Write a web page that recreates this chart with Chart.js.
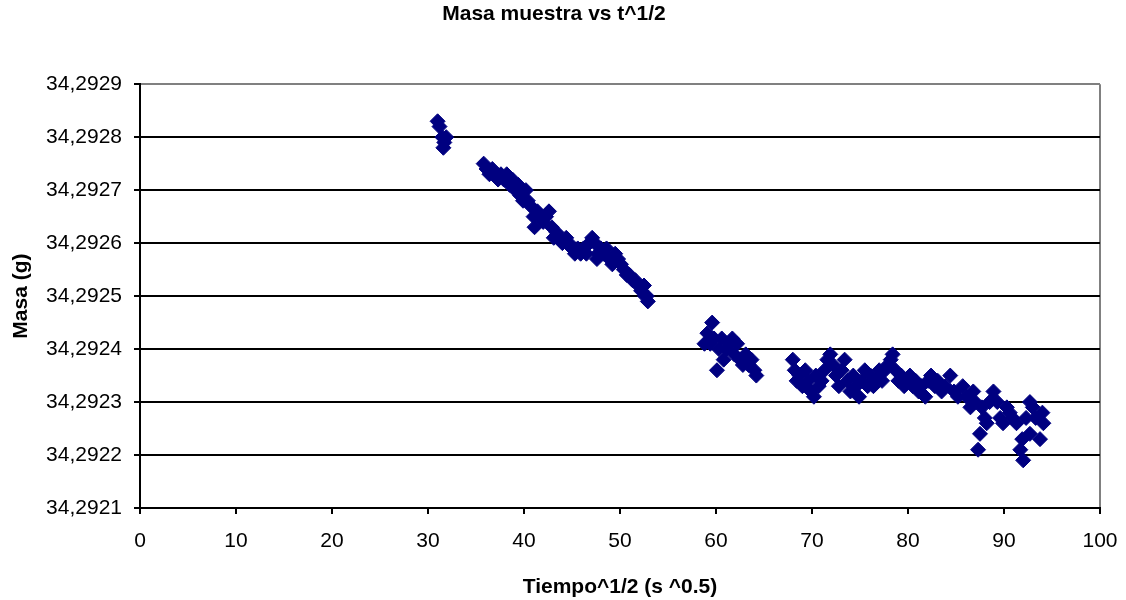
<!DOCTYPE html>
<html>
<head>
<meta charset="utf-8">
<script src="https://cdn.jsdelivr.net/npm/chart.js@4.4.1/dist/chart.umd.min.js"></script>
<style>
  html, body { margin: 0; padding: 0; background: #fff; }
  #wrap { width: 1126px; height: 600px; }
</style>
</head>
<body>
<div id="wrap"><canvas id="masaChart" width="1126" height="600"></canvas></div>
<script>
// tiempo^1/2 (s^0.5)
const tiempo = [
  31.0, 31.2, 31.5, 31.7, 31.9, 31.6,
  35.8, 36.1, 36.4, 36.7, 37.0, 37.3, 37.6, 37.9, 38.2, 38.5,
  38.8, 39.1, 39.4, 39.6, 39.9, 40.2, 40.4, 40.7, 41.0, 41.1,
  41.4, 41.7, 42.0, 42.3, 42.6, 42.9, 43.1, 43.4, 43.7, 44.0,
  44.4, 44.7, 45.0, 45.3, 45.6, 45.9, 46.2, 46.5, 46.8, 47.1,
  47.4, 47.6, 47.7, 48.0, 48.3, 48.6, 48.9, 49.2, 49.5, 49.8,
  50.1, 50.4, 50.7, 51.0, 51.3, 51.6, 51.9, 52.2, 52.5, 52.8,
  52.9, 52.6,
  58.8, 59.1, 59.4, 59.6, 59.8, 60.1, 60.3, 60.6, 60.8, 61.1,
  61.4, 61.7, 61.9, 62.2, 62.5, 62.8, 63.1, 63.4, 63.7, 64.0, 64.2,
  68.0, 68.2, 68.4, 68.7, 69.0, 69.3, 69.6, 69.9, 70.2, 70.4,
  70.7, 71.0, 71.3, 71.6, 71.9, 72.2, 72.5, 72.8, 73.1, 73.4,
  73.7, 74.0, 74.3, 74.6, 74.9, 75.2, 75.5, 75.8, 76.1, 76.4,
  76.7, 77.0, 77.3, 77.6, 77.9, 78.2, 78.4, 78.7, 79.0, 79.3,
  79.6, 79.9, 80.2, 80.5, 80.8, 81.1, 81.4, 81.8, 82.1, 82.4,
  82.8, 83.1, 83.5, 83.9, 84.4, 84.8, 85.2, 85.7, 86.1, 86.5,
  86.8, 87.0, 87.3, 87.5, 87.7, 88.0, 88.2, 88.5, 88.9, 89.3,
  89.6, 89.9, 90.3, 90.6, 90.9, 91.3, 91.7, 91.9, 92.0, 92.3,
  92.7, 93.0, 93.3, 93.75, 94.0, 94.1, 92.7
];

// masa (g)
const masa = [
  34.29283, 34.29282, 34.29280, 34.29279, 34.29280, 34.29278,
  34.29275, 34.29274, 34.29273, 34.29274, 34.29273, 34.29272, 34.29273, 34.29272, 34.29273, 34.29271,
  34.29272, 34.29270, 34.29271, 34.29269, 34.29268, 34.29270, 34.29268, 34.29267, 34.29265, 34.29263,
  34.29266, 34.29265, 34.29264, 34.29265, 34.29266, 34.29263, 34.29261, 34.29262, 34.29261, 34.29260,
  34.29261, 34.29260, 34.29259, 34.29258, 34.29259, 34.29258, 34.29259, 34.29258, 34.29260, 34.29261,
  34.29260, 34.29257, 34.29258, 34.29259, 34.29258, 34.29259, 34.29257, 34.29256, 34.29258, 34.29257,
  34.29256, 34.29255, 34.29254, 34.29254, 34.29253, 34.29253, 34.29252, 34.29251, 34.29252, 34.29250,
  34.29249, 34.29250,
  34.29241, 34.29243, 34.29241, 34.29245, 34.29242, 34.29236, 34.29240, 34.29242, 34.29238, 34.29240,
  34.29241, 34.29242, 34.29239, 34.29241, 34.29238, 34.29237, 34.29239, 34.29237, 34.29238, 34.29236, 34.29235,
  34.29238, 34.29236, 34.29234, 34.29235, 34.29233, 34.29236, 34.29234, 34.29232, 34.29231, 34.29235,
  34.29233, 34.29234, 34.29236, 34.29238, 34.29239, 34.29237, 34.29235, 34.29233, 34.29236, 34.29238,
  34.29234, 34.29232, 34.29235, 34.29233, 34.29231, 34.29234, 34.29236, 34.29233, 34.29235, 34.29233,
  34.29234, 34.29236, 34.29234, 34.29236, 34.29237, 34.29238, 34.29239, 34.29236, 34.29234, 34.29235,
  34.29233, 34.29234, 34.29235, 34.29233, 34.29234, 34.29232, 34.29233, 34.29231, 34.29234, 34.29235,
  34.29233, 34.29234, 34.29232, 34.29233, 34.29235, 34.29232, 34.29231, 34.29233, 34.29231, 34.29229,
  34.29232, 34.29230, 34.29221, 34.29224, 34.29229, 34.29227, 34.29226, 34.29230, 34.29232, 34.29230,
  34.29227, 34.29226, 34.29229, 34.29228, 34.29227, 34.29226, 34.29221, 34.29223, 34.29219, 34.29227,
  34.29224, 34.29229, 34.29227, 34.29223, 34.29228, 34.29226, 34.29230
];

const xMin = 0, xMax = 100, xStep = 10;
const yMin = 34.2921, yMax = 34.2929, yStep = 0.0001;

const fontFamily = "'Liberation Sans', Arial, sans-serif";
const navy = '#000080';

const puntos = tiempo.map((t, i) => ({ x: t, y: masa[i] }));

const config = {
  type: 'scatter',
  data: {
    datasets: [{
      label: 'Masa',
      data: puntos,
      pointStyle: 'rectRot',
      pointRadius: 7.5,
      pointHoverRadius: 7.5,
      backgroundColor: navy,
      borderColor: navy,
      borderWidth: 1
    }]
  },
  options: {
    responsive: false,
    animation: false,
    events: [],
    layout: { padding: { left: 0, right: 18, top: 0, bottom: 0 } },
    plugins: {
      legend: { display: false },
      tooltip: { enabled: false },
      title: {
        display: true,
        text: 'Masa muestra vs t^1/2',
        color: '#000',
        font: { family: fontFamily, size: 21, weight: 'bold' },
        padding: { top: 2, bottom: 57 }
      }
    },
    scales: {
      x: {
        type: 'linear',
        min: xMin,
        max: xMax,
        ticks: {
          stepSize: xStep,
          color: '#000',
          font: { family: fontFamily, size: 21 },
          padding: 15,
          maxRotation: 0
        },
        grid: {
          color: ctx => ctx.tick && ctx.tick.value === xMax ? '#808080' : 'rgba(0,0,0,0)',
          tickColor: '#000',
          tickLength: 6,
          lineWidth: 2
        },
        border: { color: '#000', width: 2 },
        title: {
          display: true,
          text: 'Tiempo^1/2 (s ^0.5)',
          color: '#000',
          font: { family: fontFamily, size: 21, weight: 'bold' },
          padding: { top: 4, bottom: 0 }
        },
        afterFit: scale => {
          scale.height = 92;
          scale.paddingRight = 26;
        }
      },
      y: {
        type: 'linear',
        min: yMin,
        max: yMax,
        ticks: {
          stepSize: yStep,
          color: '#000',
          font: { family: fontFamily, size: 21 },
          padding: 12,
          callback: v => v.toFixed(4).replace('.', ',')
        },
        grid: {
          color: ctx => ctx.tick && ctx.tick.value > yMax - yStep / 2 ? '#808080' : '#000',
          tickColor: '#000',
          tickLength: 6,
          lineWidth: 2
        },
        border: { color: '#000', width: 2 },
        title: {
          display: true,
          text: 'Masa (g)',
          color: '#000',
          font: { family: fontFamily, size: 21, weight: 'bold' },
          padding: { top: 9, bottom: 0 }
        },
        afterFit: scale => { scale.width = 140; }
      }
    }
  }
};

const chart = new Chart(document.getElementById('masaChart'), config);
</script>
</body>
</html>
